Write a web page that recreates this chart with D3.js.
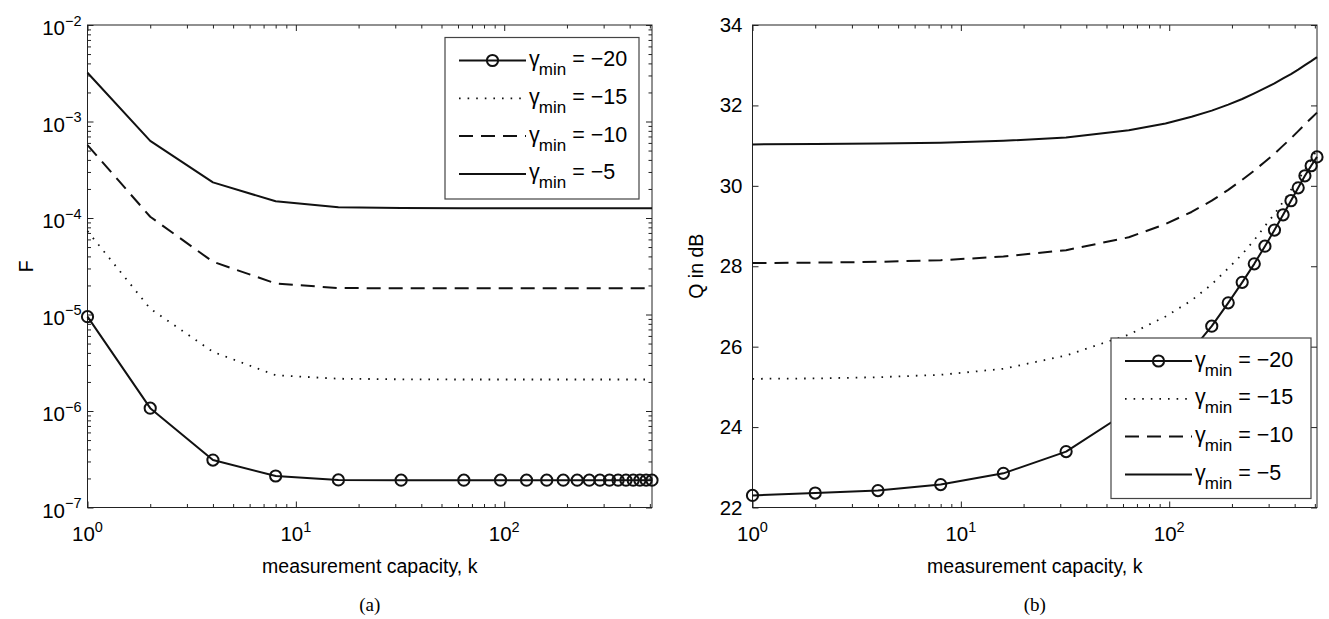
<!DOCTYPE html>
<html><head><meta charset="utf-8">
<script src="https://cdn.jsdelivr.net/npm/d3@7"></script>
<style>
body{margin:0;background:#fff}
svg{display:block}
text{font-family:"Liberation Sans",Arial,Helvetica,sans-serif;fill:#000}
</style>
</head><body>
<svg id="c" width="1329" height="619"></svg>
<script>
// ---------- data ----------
const kValues = [1,2,4,8,16,32,64,96,128,160,192,224,256,288,320,352,384,416,448,480,512];
const seriesNames = ["\u221220","\u221215","\u221210","\u22125"];
const seriesStyles = ["circle","dotted","dashed","solid"];

// panel (a): F
const F_m20 = [9.5e-6,1.07e-6,3.1e-7,2.12e-7,1.93e-7,1.92e-7,1.92e-7,1.92e-7,1.92e-7,1.92e-7,1.92e-7,1.92e-7,1.92e-7,1.92e-7,1.92e-7,1.92e-7,1.92e-7,1.92e-7,1.92e-7,1.92e-7,1.92e-7];
const F_m15 = [7.3e-5,1.15e-5,4.1e-6,2.35e-6,2.16e-6,2.13e-6,2.12e-6,2.12e-6,2.12e-6,2.12e-6,2.12e-6,2.12e-6,2.12e-6,2.12e-6,2.12e-6,2.12e-6,2.12e-6,2.12e-6,2.12e-6,2.12e-6,2.12e-6];
const F_m10 = [5.7e-4,1.03e-4,3.52e-5,2.1e-5,1.88e-5,1.87e-5,1.87e-5,1.87e-5,1.87e-5,1.87e-5,1.87e-5,1.87e-5,1.87e-5,1.87e-5,1.87e-5,1.87e-5,1.87e-5,1.87e-5,1.87e-5,1.87e-5,1.87e-5];
const F_m5  = [3.2e-3,6.3e-4,2.34e-4,1.49e-4,1.29e-4,1.27e-4,1.26e-4,1.26e-4,1.26e-4,1.26e-4,1.26e-4,1.26e-4,1.26e-4,1.26e-4,1.26e-4,1.26e-4,1.26e-4,1.26e-4,1.26e-4,1.26e-4,1.26e-4];

// panel (b): Q in dB
const Q_m20 = [22.3,22.36,22.42,22.57,22.85,23.39,24.4,25.2,25.9,26.51,27.09,27.6,28.06,28.5,28.9,29.28,29.63,29.95,30.25,30.5,30.72];
const Q_m15 = [25.2,25.21,25.24,25.3,25.45,25.78,26.3,26.75,27.15,27.55,27.95,28.3,28.65,29.0,29.3,29.6,29.9,30.15,30.4,30.65,30.9];
const Q_m10 = [28.08,28.09,28.11,28.15,28.24,28.4,28.72,29.05,29.35,29.63,29.9,30.15,30.38,30.6,30.8,31.0,31.18,31.36,31.53,31.68,31.82];
const Q_m5  = [31.03,31.04,31.05,31.07,31.12,31.2,31.38,31.55,31.72,31.87,32.02,32.16,32.3,32.43,32.55,32.67,32.78,32.89,33.0,33.1,33.2];

const xMajorTicks = [1,10,100];
const xExponents = ["0","1","2"];
const FMajorTicks = [1e-7,1e-6,1e-5,1e-4,1e-3,1e-2];
const FExponents = ["\u22127","\u22126","\u22125","\u22124","\u22123","\u22122"];
const QTicks = [22,24,26,28,30,32,34];

const xLabel = "measurement capacity, k";
const FLabel = "F";
const QLabel = "Q in dB";
const captions = ["(a)","(b)"];

// ---------- drawing ----------
const svg = d3.select("#c");
const plotTop = 25, plotBottom = 507.5;

function minorLog(lo, hi){
  const out=[];
  for(let d=lo; d<hi; d*=10){ for(let m=2;m<=9;m++){ const v=d*m; if(v<hi*0.9999) out.push(v);} }
  return out;
}

function styleFor(s){
  if(s==="dashed") return "14,8";
  if(s==="dotted") return "1.6,7";
  return null;
}

function panel(opts){
  const {x0,x1,yScale,xScale,series,legend,yLog,yLabel,yLabelX,caption} = opts;
  const g = svg.append("g");
  const x = xScale, y = yScale;

  const xMinor = minorLog(1,512);
  const mk = (axisFn, scale, vals, size, tr) => {
    const a = axisFn(scale).tickValues(vals).tickSize(size).tickFormat("");
    const ga = g.append("g").attr("transform",tr).call(a);
    ga.select(".domain").remove();
    ga.selectAll("line").attr("stroke","#222").attr("stroke-width",1);
  };
  mk(d3.axisBottom, x, xMajorTicks, -6, `translate(0,${plotBottom})`);
  mk(d3.axisBottom, x, xMinor, -3.5, `translate(0,${plotBottom})`);
  mk(d3.axisTop, x, xMajorTicks, -6, `translate(0,${plotTop})`);
  mk(d3.axisTop, x, xMinor, -3.5, `translate(0,${plotTop})`);
  if(yLog){
    const yMinor = minorLog(1e-7,1e-2);
    mk(d3.axisLeft, y, FMajorTicks, -6, `translate(${x0},0)`);
    mk(d3.axisLeft, y, yMinor, -3.5, `translate(${x0},0)`);
    mk(d3.axisRight, y, FMajorTicks, -6, `translate(${x1},0)`);
    mk(d3.axisRight, y, yMinor, -3.5, `translate(${x1},0)`);
  } else {
    mk(d3.axisLeft, y, QTicks, -6, `translate(${x0},0)`);
    mk(d3.axisRight, y, QTicks, -6, `translate(${x1},0)`);
  }

  g.append("rect").attr("x",x0).attr("y",plotTop).attr("width",x1-x0).attr("height",plotBottom-plotTop)
    .attr("fill","none").attr("stroke","#222").attr("stroke-width",1);

  xMajorTicks.forEach((v,i)=>{
    const t = g.append("text").attr("x",x(v)).attr("y",541).attr("text-anchor","middle").style("font-size","20.5px");
    t.append("tspan").text("10");
    t.append("tspan").attr("dy",-9.5).style("font-size","14.5px").text(xExponents[i]);
  });
  if(yLog){
    FMajorTicks.forEach((v,i)=>{
      const t = g.append("text").attr("x",x0-6).attr("y",y(v)+10).attr("text-anchor","end").style("font-size","20.5px");
      t.append("tspan").text("10");
      t.append("tspan").attr("dy",-9.5).style("font-size","14.5px").text(FExponents[i]);
    });
  } else {
    QTicks.forEach(v=>{
      g.append("text").attr("x",x0-10).attr("y",y(v)+7).attr("text-anchor","end").style("font-size","20.5px").text(v);
    });
  }

  g.append("text").attr("x",(x0+x1)/2).attr("y",573).attr("text-anchor","middle").style("font-size","19.5px").text(xLabel);
  g.append("text").attr("transform",`translate(${yLabelX},${(plotTop+plotBottom)/2}) rotate(-90)`).attr("text-anchor","middle").style("font-size","19.5px").text(yLabel);
  g.append("text").attr("x",(x0+x1)/2).attr("y",611).attr("text-anchor","middle")
    .style("font-family","'Liberation Serif','Times New Roman',serif").style("font-size","19px").text(caption);

  const line = d3.line().x(d=>x(d[0])).y(d=>y(d[1]));
  series.forEach((vals,i)=>{
    const pts = kValues.map((k,j)=>[k,vals[j]]);
    const st = seriesStyles[i];
    g.append("path").datum(pts).attr("d",line).attr("fill","none").attr("stroke","#111")
      .attr("stroke-width", st==="dotted"?1.8:2).attr("stroke-dasharray",styleFor(st))
      .attr("stroke-linejoin","round");
    if(st==="circle"){
      g.selectAll(null).data(pts).join("circle").attr("cx",d=>x(d[0])).attr("cy",d=>y(d[1])).attr("r",5.6)
        .attr("fill","none").attr("stroke","#111").attr("stroke-width",2);
    }
  });

  const L = legend;
  const lg = g.append("g");
  lg.append("rect").attr("x",L.x).attr("y",L.y).attr("width",L.w).attr("height",L.h)
    .attr("fill","#fff").attr("stroke","#444").attr("stroke-width",1.2);
  const rows = lg.selectAll("g.row").data(seriesNames).join("g").attr("class","row")
    .attr("transform",(d,i)=>`translate(${L.x},${L.y+23+i*37.8})`);
  rows.append("line").attr("x1",14).attr("x2",81).attr("y1",0).attr("y2",0).attr("stroke","#111")
    .attr("stroke-width",(d,i)=>seriesStyles[i]==="dotted"?1.8:2)
    .attr("stroke-dasharray",(d,i)=>styleFor(seriesStyles[i]));
  rows.filter((d,i)=>seriesStyles[i]==="circle").append("circle").attr("cx",47.5).attr("cy",0).attr("r",5.6)
    .attr("fill","none").attr("stroke","#111").attr("stroke-width",2);
  const tx = rows.append("text").attr("x",84).attr("y",5.5).style("font-size","21.5px");
  tx.append("tspan").text("\u03b3");
  tx.append("tspan").attr("dy",9).attr("dx",-1).style("font-size","17px").text("min");
  tx.append("tspan").attr("dy",-9).text(d=>" = "+d);
}

const xL = d3.scaleLog().domain([1,512]).range([87.5,652]);
const yL = d3.scaleLog().domain([1e-7,1e-2]).range([plotBottom,plotTop]);
const xR = d3.scaleLog().domain([1,512]).range([752.5,1317]);
const yR = d3.scaleLinear().domain([22,34]).range([plotBottom,plotTop]);

panel({x0:87.5,x1:652,xScale:xL,yScale:yL,yLog:true,series:[F_m20,F_m15,F_m10,F_m5],
  legend:{x:445,y:37.5,w:194,h:161.5},yLabel:FLabel,yLabelX:33,caption:captions[0]});
panel({x0:752.5,x1:1317,xScale:xR,yScale:yR,yLog:false,series:[Q_m20,Q_m15,Q_m10,Q_m5],
  legend:{x:1111,y:338,w:200,h:160.5},yLabel:QLabel,yLabelX:703,caption:captions[1]});
</script>
</body></html>
